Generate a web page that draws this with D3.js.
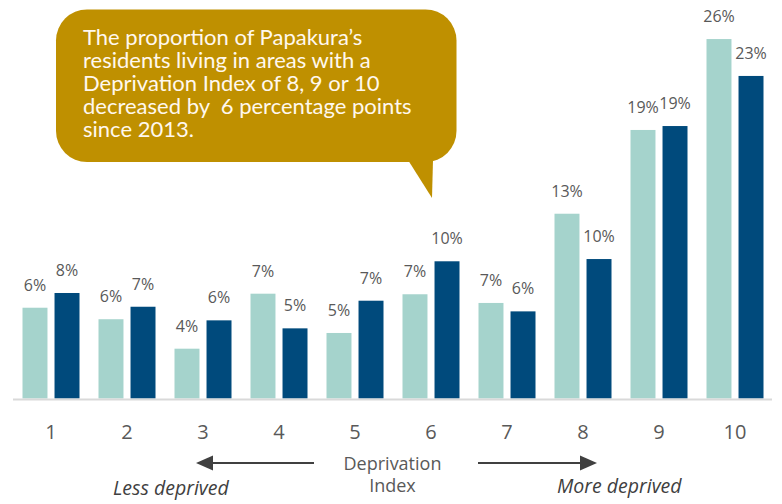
<!DOCTYPE html>
<html>
<head>
<meta charset="utf-8">
<script src="https://cdn.jsdelivr.net/npm/d3@7"></script>
<style>
  body { margin: 0; background: #fff; }
  svg { display: block; }
</style>
</head>
<body>
<svg id="chart" width="782" height="504"></svg>
<script>
// deprivation index 1..10, share of residents (%)
var categories = ["1", "2", "3", "4", "5", "6", "7", "8", "9", "10"];
var seriesNames = ["2013", "2018"];
var values2013 = [6.47, 5.65, 3.55, 7.47, 4.67, 7.43, 6.81, 13.17, 19.14, 25.62];
var values2018 = [7.52, 6.54, 5.57, 5.0, 6.97, 9.78, 6.21, 9.94, 19.42, 22.99];
var yDomain = [0, 28];

var calloutLines = [
    "The proportion of Papakura\u2019s",
    "residents living in areas with a",
    "Deprivation Index of 8, 9 or 10",
    "decreased by  6 percentage points",
    "since 2013."
];

var colors = {"2013": "#A5D3CC", "2018": "#004A7C"};

var svg = d3.select("#chart");
var baseY = 398.5;

var x0 = d3.scaleBand()
    .domain(categories)
    .range([13, 773])
    .paddingInner(0.25)
    .paddingOuter(0.125);

var x1 = d3.scaleBand()
    .domain(seriesNames)
    .range([0, x0.bandwidth()])
    .paddingInner(0.22);

var y = d3.scaleLinear()
    .domain(yDomain)
    .range([baseY, baseY - 28 * 14.03]);

var rows = categories.map(function(c, i){
    return {cat: c, vals: [
        {name: "2013", v: values2013[i]},
        {name: "2018", v: values2018[i]}
    ]};
});

var groups = svg.append("g").selectAll("g")
    .data(rows)
    .join("g")
    .attr("transform", function(d){ return "translate(" + x0(d.cat) + ",0)"; });

groups.selectAll("rect")
    .data(function(d){ return d.vals; })
    .join("rect")
    .attr("x", function(d){ return x1(d.name); })
    .attr("y", function(d){ return y(d.v); })
    .attr("width", x1.bandwidth())
    .attr("height", function(d){ return y(0) - y(d.v); })
    .attr("fill", function(d){ return colors[d.name]; });

groups.selectAll("text")
    .data(function(d){ return d.vals; })
    .join("text")
    .attr("x", function(d){ return x1(d.name) + x1.bandwidth() / 2; })
    .attr("y", function(d){ return y(d.v) - 17; })
    .attr("text-anchor", "middle")
    .attr("font-family", "'Open Sans', sans-serif")
    .attr("font-size", "16px")
    .attr("fill", "#595959")
    .text(function(d){ return Math.round(d.v) + "%"; });

// baseline
svg.append("line")
    .attr("x1", 13).attr("x2", 772)
    .attr("y1", baseY + 1).attr("y2", baseY + 1)
    .attr("stroke", "#D9D9D9")
    .attr("stroke-width", 2);

var xAxis = svg.append("g")
    .attr("transform", "translate(0," + (baseY + 1) + ")")
    .call(d3.axisBottom(x0).tickSize(0));
xAxis.select(".domain").remove();
xAxis.selectAll("text")
    .attr("y", 39)
    .attr("dy", 0)
    .attr("font-family", "'Open Sans', sans-serif")
    .attr("font-size", "20px")
    .attr("fill", "#595959");

// axis title and arrows
var note = svg.append("g")
    .attr("font-family", "'Open Sans', sans-serif")
    .attr("fill", "#595959");
note.append("text")
    .attr("x", 392.5).attr("y", 470)
    .attr("text-anchor", "middle")
    .attr("font-size", "18px")
    .text("Deprivation");
note.append("text")
    .attr("x", 392.5).attr("y", 492)
    .attr("text-anchor", "middle")
    .attr("font-size", "18px")
    .text("Index");
note.append("text")
    .attr("x", 113).attr("y", 495)
    .attr("font-size", "19.5px")
    .attr("font-style", "italic")
    .attr("fill", "#404040")
    .text("Less deprived");
note.append("text")
    .attr("x", 557).attr("y", 493)
    .attr("font-size", "19.5px")
    .attr("font-style", "italic")
    .attr("fill", "#404040")
    .text("More deprived");

function arrow(xStart, xTip, yy){
    var dir = xTip > xStart ? 1 : -1;
    var headLen = 17, headW = 7.5;
    svg.append("line")
        .attr("x1", xStart).attr("x2", xTip - dir * headLen)
        .attr("y1", yy).attr("y2", yy)
        .attr("stroke", "#404040")
        .attr("stroke-width", 2.2);
    svg.append("path")
        .attr("d", "M" + xTip + "," + yy
            + "L" + (xTip - dir * headLen) + "," + (yy - headW)
            + "L" + (xTip - dir * headLen) + "," + (yy + headW) + "Z")
        .attr("fill", "#404040");
}
arrow(314, 196, 463);
arrow(478, 597, 463);

// callout bubble
var bubble = svg.append("g");
bubble.append("rect")
    .attr("x", 56).attr("y", 9.5)
    .attr("width", 400.5).attr("height", 152.5)
    .attr("rx", 31).attr("ry", 31)
    .attr("fill", "#BF9000");
bubble.append("path")
    .attr("d", "M408,160L433,160L432,198Z")
    .attr("fill", "#BF9000");
bubble.append("g")
    .selectAll("text")
    .data(calloutLines)
    .join("text")
    .attr("x", 83)
    .attr("y", function(d, i){ return 45 + i * 22.9; })
    .attr("font-family", "Lato, 'Open Sans', sans-serif")
    .attr("font-size", "22px")
    .attr("fill", "#FFF8EE")
    .style("white-space", "pre")
    .text(function(d){ return d; });
</script>
</body>
</html>
